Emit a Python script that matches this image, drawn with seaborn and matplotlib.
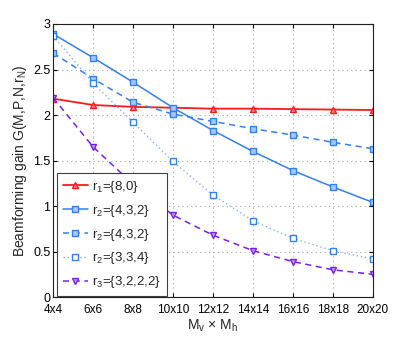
import numpy as np
import pandas as pd
import matplotlib
matplotlib.use('Agg')
import matplotlib.pyplot as plt
import seaborn as sns

sizes = ['4x4', '6x6', '8x8', '10x10', '12x12', '14x14', '16x16', '18x18', '20x20']

r1_80 = [2.18, 2.11, 2.09, 2.08, 2.07, 2.07, 2.065, 2.06, 2.055]
r2_432_solid = [2.89, 2.63, 2.36, 2.08, 1.83, 1.60, 1.39, 1.21, 1.04]
r2_432_dash = [2.68, 2.40, 2.14, 2.01, 1.93, 1.85, 1.78, 1.70, 1.63]
r2_334 = [2.87, 2.35, 1.92, 1.49, 1.12, 0.84, 0.645, 0.51, 0.42]
r3_3222 = [2.19, 1.65, 1.24, 0.90, 0.68, 0.51, 0.39, 0.30, 0.25]

sns.set_style('white')
plt.rcParams['font.family'] = ['Liberation Sans', 'DejaVu Sans']
plt.rcParams['mathtext.fontset'] = 'custom'
plt.rcParams['mathtext.rm'] = 'Liberation Sans'
plt.rcParams['mathtext.it'] = 'Liberation Sans'

red = '#ff1a1a'
blue = '#3380f0'
purple = '#7a1ff0'

x = np.arange(len(sizes))
df = pd.DataFrame({'x': x, 'r1': r1_80, 'r2a': r2_432_solid, 'r2b': r2_432_dash,
                   'r2c': r2_334, 'r3': r3_3222})

fig = plt.figure(figsize=(4.12, 3.38), dpi=100)
ax = fig.add_axes([0.129, 0.121, 0.776, 0.808])

sns.lineplot(data=df, x='x', y='r1', ax=ax, color=red, lw=1.3, marker='^', ms=5,
             mfc='#ff8080', mec=red, mew=1.0, label=r'r$_1$={8,0}')
sns.lineplot(data=df, x='x', y='r2a', ax=ax, color=blue, lw=1.1, marker='s', ms=4,
             mfc='#a8c8f8', mec=blue, mew=1.0, label=r'r$_2$={4,3,2}')
sns.lineplot(data=df, x='x', y='r2b', ax=ax, color=blue, lw=1.1, ls=(0, (4, 3)), marker='s', ms=4,
             mfc='#a8c8f8', mec=blue, mew=1.0, label=r'r$_2$={4,3,2}')
sns.lineplot(data=df, x='x', y='r2c', ax=ax, color='#80b0f8', lw=1.0, ls=(0, (1, 2)), marker='s', ms=4,
             mfc='white', mec=blue, mew=1.0, label=r'r$_2$={3,3,4}')
sns.lineplot(data=df, x='x', y='r3', ax=ax, color=purple, lw=1.1, ls=(0, (4, 3)), marker='v', ms=5,
             mfc='#c0a0f8', mec=purple, mew=1.0, label=r'r$_3$={3,2,2,2}')

ax.set_xlim(0, len(sizes) - 1)
ax.set_ylim(0, 3)
ax.set_xticks(x)
ax.set_xticklabels(sizes, fontsize=8.5)
ax.set_yticks([0, 0.5, 1, 1.5, 2, 2.5, 3])
ax.set_yticklabels(['0', '0.5', '1', '1.5', '2', '2.5', '3'], fontsize=9)
ax.tick_params(direction='in', length=3, top=True, right=True, bottom=True, left=True,
               pad=2, colors='black')
ax.tick_params(axis='x', pad=5)
ax.grid(True, ls=(0, (1, 3)), color='#a8a8a8', lw=0.8)
for s in ax.spines.values():
    s.set_color('#202020')
    s.set_linewidth(0.8)

ax.set_xlabel(r'M$_\mathregular{v}$ $\times$ M$_\mathregular{h}$', fontsize=10, labelpad=1)
ax.set_ylabel(r'Beamforming gain G(M,P,N,r$_\mathregular{N}$)', fontsize=10, labelpad=3)

leg = ax.legend(loc='lower left', fontsize=9.5, frameon=True, fancybox=False,
                edgecolor='#404040', framealpha=1, handlelength=1.9,
                borderpad=0.45, labelspacing=0.6, handletextpad=0.3,
                borderaxespad=0, bbox_to_anchor=(0.012, 0.003))
leg.get_frame().set_linewidth(0.8)

fig.savefig('out.png', dpi=100)
